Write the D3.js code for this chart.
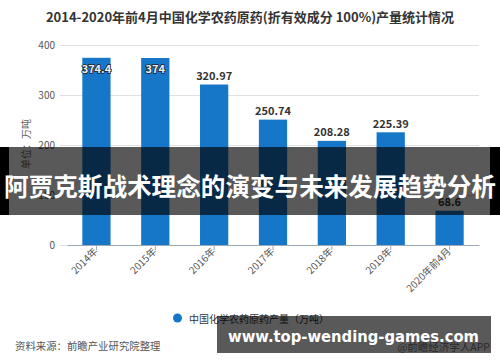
<!DOCTYPE html>
<html><head><meta charset="utf-8">
<script src="https://cdn.jsdelivr.net/npm/d3@7"></script>
<style>body{margin:0;background:#fff}svg{display:block}</style>
</head><body>
<svg id="c" width="500" height="362"></svg>
<script>
const categories = ["2014年","2015年","2016年","2017年","2018年","2019年","2020年前4月"];
const values = [374.4, 374, 320.97, 250.74, 208.28, 225.39, 68.6];
const labels = ["374.4","374","320.97","250.74","208.28","225.39","68.6"];
const yTicks = [0,100,200,300,400];
const title = "2014-2020年前4月中国化学农药原药(折有效成分 100%)产量统计情况";
const yTitle = "单位：万吨";
const legendName = "中国化学农药原药产量（万吨）";
const source = "资料来源：前瞻产业研究院整理";
const brand = "@前瞻经济学人APP";
const banner = "阿贾克斯战术理念的演变与未来发展趋势分析";
const site = "www.top-wending-games.com";

const font = "'Noto Sans CJK SC','Noto Sans',sans-serif";
const svg = d3.select("#c");
const x = d3.scaleBand().domain(categories).range([67,479]).paddingInner(0.52).paddingOuter(0.26);
const y = d3.scaleLinear().domain([0,400]).range([245,45]);

svg.append("text").attr("x",250).attr("y",16).attr("text-anchor","middle").attr("dominant-baseline","central")
  .attr("font-family",font).attr("font-weight","bold").attr("font-size",13).attr("fill","#333").text(title);

// grid
const ya = svg.append("g").attr("transform","translate(60,0)")
  .call(d3.axisLeft(y).tickValues(yTicks).tickSize(-419).tickPadding(5));
ya.select(".domain").remove();
ya.selectAll(".tick line").attr("stroke","#e0e0e0");
ya.selectAll(".tick text").attr("font-family",font).attr("font-size",10).attr("fill","#555");

svg.append("text").attr("transform","translate(25,144) rotate(-90)").attr("text-anchor","middle")
  .attr("dominant-baseline","central").attr("font-family",font).attr("font-size",10).attr("fill","#666").text(yTitle);

svg.selectAll("rect.bar").data(values).enter().append("rect").attr("class","bar")
  .attr("x",(d,i)=>x(categories[i])).attr("width",x.bandwidth())
  .attr("y",d=>y(d)).attr("height",d=>y(0)-y(d)).attr("fill","#1677c9");

// x axis
const xa = svg.append("g").attr("transform","translate(0,245)")
  .call(d3.axisBottom(x).tickSize(5).tickSizeOuter(0));
xa.select(".domain").attr("stroke","#9aa8b8");
xa.selectAll(".tick line").attr("stroke","#9aa8b8");
xa.selectAll(".tick text").attr("font-family",font).attr("font-size",10).attr("fill","#555")
  .attr("text-anchor","end").attr("dy",0).attr("y",0)
  .attr("transform","translate(2,7) rotate(-45)");

// value labels
values.forEach((d,i)=>{
  const inside = d > 360;
  const t = svg.append("text").attr("x",x(categories[i])+x.bandwidth()/2)
    .attr("y", inside ? y(d)+10 : y(d)-9.5).attr("text-anchor","middle").attr("dominant-baseline","central")
    .attr("font-family",font).attr("font-weight","bold").attr("font-size",11).text(labels[i]);
  if (inside) t.attr("fill","#e8eef5").attr("stroke","#222").attr("stroke-width",1.6).attr("paint-order","stroke");
  else t.attr("fill","#333");
});

// legend
svg.append("circle").attr("cx",177.5).attr("cy",318).attr("r",4.5).attr("fill","#1677c9");
svg.append("text").attr("x",189).attr("y",318).attr("dominant-baseline","central")
  .attr("font-family",font).attr("font-size",10).attr("fill","#333").text(legendName);

svg.append("text").attr("x",15).attr("y",345).attr("dominant-baseline","central")
  .attr("font-family",font).attr("font-size",10.4).attr("fill","#555").text(source);
svg.append("text").attr("x",490).attr("y",346).attr("text-anchor","end").attr("dominant-baseline","central")
  .attr("font-family",font).attr("font-size",10.5).attr("fill","#777").text(brand);

// overlay banners
svg.append("rect").attr("x",0).attr("y",147).attr("width",500).attr("height",68).attr("fill","#000").attr("opacity",0.65);
svg.append("rect").attr("x",0).attr("y",147).attr("width",9).attr("height",68).attr("fill","#000");
svg.append("rect").attr("x",490).attr("y",147).attr("width",10).attr("height",68).attr("fill","#000");
svg.append("text").attr("x",250).attr("y",185).attr("text-anchor","middle").attr("dominant-baseline","central")
  .attr("font-family",font).attr("font-weight","bold").attr("font-size",24.6).attr("fill","#fff").text(banner);

svg.append("rect").attr("x",217).attr("y",316).attr("width",274).attr("height",37).attr("fill","#000").attr("opacity",0.65);
svg.append("text").attr("x",228).attr("y",342).attr("font-family","'DejaVu Sans',sans-serif").attr("font-weight","bold")
  .attr("font-size",15).attr("fill","#fff").attr("textLength",251).attr("lengthAdjust","spacingAndGlyphs").text(site);
</script>
</body></html>
